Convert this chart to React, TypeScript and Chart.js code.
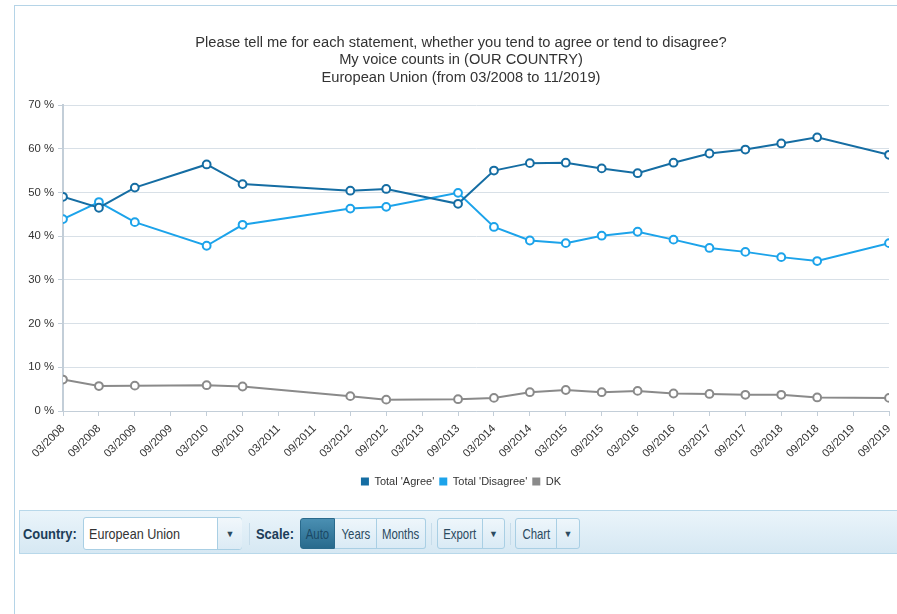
import React, { useEffect, useRef } from "react";
import { Chart, registerables } from "chart.js";

Chart.register(...registerables);

// ---- Data ----
const surveyDates = [
  "03/2008", "09/2008", "03/2009", "03/2010", "09/2010", "03/2012", "09/2012",
  "09/2013", "03/2014", "09/2014", "03/2015", "09/2015", "03/2016", "09/2016",
  "03/2017", "09/2017", "03/2018", "09/2018", "09/2019",
];
const agreeValues = [
  49.0, 46.5, 51.1, 56.4, 51.9, 50.4, 50.8, 47.4, 55.0, 56.7, 56.8, 55.5, 54.4,
  56.8, 58.9, 59.8, 61.2, 62.6, 58.6,
];
const disagreeValues = [
  43.9, 47.8, 43.2, 37.8, 42.6, 46.3, 46.7, 49.9, 42.1, 39.0, 38.4, 40.1, 41.0,
  39.2, 37.3, 36.4, 35.2, 34.3, 38.4,
];
const dkValues = [
  7.2, 5.7, 5.8, 5.9, 5.6, 3.4, 2.6, 2.7, 3.0, 4.3, 4.8, 4.3, 4.6, 4.0, 3.9,
  3.7, 3.7, 3.1, 3.0,
];
const xTickLabels = [
  "03/2008", "09/2008", "03/2009", "09/2009", "03/2010", "09/2010", "03/2011",
  "09/2011", "03/2012", "09/2012", "03/2013", "09/2013", "03/2014", "09/2014",
  "03/2015", "09/2015", "03/2016", "09/2016", "03/2017", "09/2017", "03/2018",
  "09/2018", "03/2019", "09/2019",
];
const yTickValues = [0, 10, 20, 30, 40, 50, 60, 70];
const seriesNames = ["Total 'Agree'", "Total 'Disagree'", "DK"];
const titleLines = [
  "Please tell me for each statement, whether you tend to agree or tend to disagree?",
  "My voice counts in (OUR COUNTRY)",
  "European Union (from 03/2008 to 11/2019)",
];

const COLORS = ["#156da3", "#1ca3ea", "#8a8a8a"];
const FONT = "'Liberation Sans', Arial, sans-serif";

// month offset from 03/2008
const monthIndex = (s: string) => {
  const [m, y] = s.split("/").map(Number);
  return (y - 2008) * 12 + (m - 3);
};

function LineChart() {
  const ref = useRef<HTMLCanvasElement | null>(null);
  useEffect(() => {
    if (!ref.current) return;
    const mk = (vals: number[]) =>
      vals.map((v, i) => ({ x: monthIndex(surveyDates[i]), y: v }));
    const series = [agreeValues, disagreeValues, dkValues];
    const chart = new Chart(ref.current, {
      type: "line",
      data: {
        datasets: series.map((vals, i) => ({
          label: seriesNames[i],
          data: mk(vals),
          borderColor: COLORS[i],
          backgroundColor: COLORS[i],
          pointBackgroundColor: "#ffffff",
          pointBorderColor: COLORS[i],
          pointBorderWidth: 2,
          pointRadius: 3.9,
          borderWidth: 2,
          tension: 0,
          order: i,
          yAxisID: "y",
        })),
      },
      options: {
        animation: false,
        responsive: false,
        maintainAspectRatio: false,
        layout: { padding: { left: 0, right: 0, top: 0, bottom: 0 } },
        plugins: {
          title: {
            display: true,
            text: titleLines,
            color: "#333333",
            font: { family: FONT, size: 14.7, weight: "normal", lineHeight: "17.4px" },
            padding: { top: 28, bottom: 18.8 },
          },
          legend: {
            display: true,
            position: "bottom",
            labels: {
              boxWidth: 8,
              boxHeight: 8,
              padding: 5,
              color: "#333333",
              font: { family: FONT, size: 11 },
              generateLabels: (c: any) =>
                Chart.defaults.plugins.legend.labels
                  .generateLabels(c)
                  .map((l: any, i: number) => ({ ...l, lineWidth: 0, fillStyle: COLORS[i], strokeStyle: COLORS[i] })),
            },
          },
          tooltip: { enabled: false },
        },
        scales: {
          x: {
            type: "linear",
            min: 0,
            max: monthIndex(xTickLabels[xTickLabels.length - 1]),
            afterFit: (s: any) => { s.height = 60; },
            afterBuildTicks: (s: any) => {
              s.ticks = xTickLabels.map((t) => ({ value: monthIndex(t) }));
            },
            ticks: {
              autoSkip: false,
              maxRotation: 45,
              minRotation: 45,
              padding: 6,
              color: "#333333",
              font: { family: FONT, size: 11.3 },
              callback: (v: any) => {
                const idx = xTickLabels.findIndex((t) => monthIndex(t) === v);
                return idx >= 0 ? xTickLabels[idx] : "";
              },
            },
            grid: {
              drawOnChartArea: false,
              drawTicks: true,
              tickLength: 5,
              tickColor: "#c3ced8",
            },
            border: { display: true, color: "#c3ced8", width: 1 },
          },
          y: {
            position: "left",
            min: 0,
            max: 70,
            afterFit: (s: any) => { s.width = 48; },
            afterBuildTicks: (s: any) => {
              s.ticks = yTickValues.map((v) => ({ value: v }));
            },
            ticks: {
              padding: 4,
              color: "#333333",
              font: { family: FONT, size: 11.3 },
              callback: (v: any) => v + " %",
            },
            grid: {
              color: "#d8e0e7",
              lineWidth: 1,
              tickLength: 5,
              tickColor: "#c3ced8",
            },
            border: { display: true, color: "#c3ced8", width: 2 },
          },
          // empty right-hand spacer so the plot ends before the canvas edge
          spacer: {
            type: "linear",
            position: "right",
            min: 0,
            max: 70,
            afterFit: (s: any) => { s.width = 18; },
            ticks: { display: false },
            grid: { display: false, drawTicks: false },
            border: { display: false },
          },
        },
      } as any,
    });
    return () => chart.destroy();
  }, []);
  return (
    <canvas
      ref={ref}
      width={892}
      height={491}
      style={{ position: "absolute", left: 0, top: 0, width: 892, height: 491 }}
    />
  );
}

const TB_FONT = "'Liberation Sans', Arial, sans-serif";

// text horizontally condensed to mimic the narrow toolbar font
function Narrow({ children, sx, origin = "center" }: { children: any; sx: number; origin?: string }) {
  return (
    <span
      style={{
        display: "inline-block",
        transform: `scaleX(${sx})`,
        transformOrigin: origin,
        whiteSpace: "nowrap",
      }}
    >
      {children}
    </span>
  );
}

const btnBase: React.CSSProperties = {
  position: "absolute",
  top: 7,
  height: 31,
  boxSizing: "border-box",
  border: "1px solid #a9cfe4",
  background: "linear-gradient(#eef6fb, #d9eaf5)",
  color: "#2b4a60",
  fontFamily: TB_FONT,
  fontSize: 15,
  display: "flex",
  alignItems: "center",
  justifyContent: "center",
  overflow: "visible",
};

function Toolbar() {
  const label: React.CSSProperties = {
    position: "absolute",
    top: 0,
    height: 44,
    display: "flex",
    alignItems: "center",
    fontFamily: TB_FONT,
    fontWeight: "bold",
    fontSize: 15,
    color: "#1c3d58",
  };
  const sep = (x: number): React.CSSProperties => ({
    position: "absolute",
    left: x,
    top: 12,
    width: 1,
    height: 22,
    background: "#c6dcea",
  });
  const arrow = <span style={{ fontSize: 9, color: "#2b4a60" }}>▼</span>;
  return (
    <div
      style={{
        position: "absolute",
        left: 19,
        top: 510,
        width: 960,
        height: 44,
        boxSizing: "border-box",
        border: "1px solid #b8d8ea",
        background: "linear-gradient(#eaf4fa, #d6e8f3)",
      }}
    >
      <div style={{ ...label, left: 3 }}>
        <Narrow sx={0.86} origin="left">Country:</Narrow>
      </div>
      <div
        style={{
          position: "absolute",
          left: 63,
          top: 6,
          width: 159,
          height: 33,
          boxSizing: "border-box",
          border: "1px solid #a9cfe4",
          borderRadius: 3,
          background: "#ffffff",
        }}
      >
        <div
          style={{
            position: "absolute",
            left: 5,
            top: 0,
            height: 31,
            display: "flex",
            alignItems: "center",
            fontFamily: TB_FONT,
            fontSize: 15,
            color: "#333333",
          }}
        >
          <Narrow sx={0.84} origin="left">European Union</Narrow>
        </div>
        <div
          style={{
            position: "absolute",
            left: 133,
            top: 0,
            width: 24,
            height: 31,
            borderLeft: "1px solid #a9cfe4",
            background: "linear-gradient(#f1f7fb, #dcebf5)",
            display: "flex",
            alignItems: "center",
            justifyContent: "center",
            borderRadius: "0 3px 3px 0",
          }}
        >
          {arrow}
        </div>
      </div>
      <div style={sep(229)} />
      <div style={{ ...label, left: 236 }}>
        <Narrow sx={0.86} origin="left">Scale:</Narrow>
      </div>
      <div
        style={{
          ...btnBase,
          left: 280,
          width: 35,
          background: "linear-gradient(#4a8fb2, #286a8d)",
          border: "1px solid #2a6a8c",
          borderRadius: "3px 0 0 3px",
          color: "#1b4966",
        }}
      >
        <Narrow sx={0.76}>Auto</Narrow>
      </div>
      <div style={{ ...btnBase, left: 315, width: 42, borderLeft: "none" }}>
        <Narrow sx={0.76}>Years</Narrow>
      </div>
      <div style={{ ...btnBase, left: 357, width: 49, borderLeft: "none", borderRadius: "0 3px 3px 0" }}>
        <Narrow sx={0.76}>Months</Narrow>
      </div>
      <div style={sep(411)} />
      <div style={{ ...btnBase, left: 417, width: 46, borderRadius: "3px 0 0 3px" }}>
        <Narrow sx={0.76}>Export</Narrow>
      </div>
      <div style={{ ...btnBase, left: 462, width: 23, borderRadius: "0 3px 3px 0" }}>{arrow}</div>
      <div style={sep(490)} />
      <div style={{ ...btnBase, left: 495, width: 42, borderRadius: "3px 0 0 3px" }}>
        <Narrow sx={0.76}>Chart</Narrow>
      </div>
      <div style={{ ...btnBase, left: 536, width: 24, borderRadius: "0 3px 3px 0" }}>{arrow}</div>
    </div>
  );
}

export default function App() {
  return (
    <div
      style={{
        position: "fixed",
        left: 0,
        top: 0,
        width: 897,
        height: 614,
        overflow: "hidden",
        background: "#ffffff",
      }}
    >
      <div
        style={{
          position: "absolute",
          left: 14,
          top: 5,
          width: 1000,
          height: 700,
          borderLeft: "1px solid #b5d4e7",
          borderTop: "1px solid #b5d4e7",
        }}
      >
        <LineChart />
      </div>
      <Toolbar />
    </div>
  );
}
